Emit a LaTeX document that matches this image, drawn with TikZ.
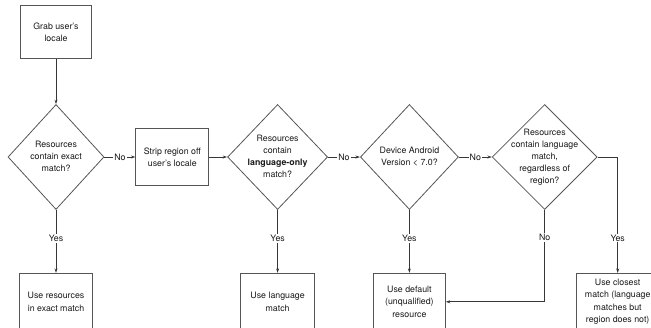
\documentclass[tikz,border=0pt]{standalone}
\usepackage{fontspec}
\setmainfont{TeX Gyre Heros}
\usepackage{tikz}
\usetikzlibrary{shapes.geometric, arrows.meta, positioning}
\definecolor{flowline}{RGB}{55, 55, 55}
\definecolor{flowedge}{RGB}{85, 85, 85}
\definecolor{flowtext}{RGB}{25, 25, 25}
% text for a diamond without letting it size the shape
\newcommand{\dlines}[1]{\smash{\makebox[0pt]{\raisebox{-2.5pt}{\begin{tabular}{@{}c@{}}#1\end{tabular}}}}}
\tikzset{
    action/.style={rectangle, draw=flowedge, line width=0.8pt, minimum width=73pt, minimum height=57pt, inner sep=2pt, align=center, text=flowtext, font=\fontsize{8.8}{12.4}\selectfont},
    decision/.style={diamond, draw=flowedge, line width=0.8pt, inner sep=0pt, minimum width=100pt, minimum height=105pt, text=flowtext, font=\fontsize{8.8}{11.9}\selectfont},
    arrow/.style={line width=0.8pt, draw=flowline, ->, >={Stealth[length=4.5pt, width=3pt]}},
    tag/.style={fill=white, inner sep=1pt, text=flowtext, font=\fontsize{8.8}{10}\selectfont}
}

\begin{document}
\begin{tikzpicture}[x=1pt, y=-1pt]
    \clip (0,0) rectangle (651,327);

    % top row
    \node (exact) [decision, minimum width=96pt] at (56,157) {\dlines{Resources\\contain exact\\match?}};
    \node (grab) [action, above=45pt of exact, minimum width=71pt, minimum height=53pt] {Grab user's\\locale};
    \node (strip) [action, right=31pt of exact] {Strip region off\\user's locale};
    \node (langonly) [decision, right=18pt of strip] {\dlines{Resources\\contain\\\textbf{language-only}\\match?}};
    \node (android) [decision, right=32pt of langonly, minimum width=98pt] {\dlines{Device Android\\Version < 7.0?}};
    \node (anylang) [decision, right=33pt of android, minimum width=105pt] {\dlines{Resources\\contain language\\match,\\regardless of\\region?}};

    % bottom row
    \node (useexact) [action, below=63pt of exact] {Use resources\\in exact match};
    \node (uselang) [action, below=63pt of langonly, minimum width=74pt] {Use language\\match};
    \node (usedefault) [action, below=63pt of android, minimum width=72pt] {Use default\\(unqualified)\\resource};
    \node (useclosest) [action, below=63pt of anylang, xshift=73pt, minimum width=82pt] {Use closest\\match (language\\matches but\\region does not)};

    \draw [arrow] (grab) -- (exact);
    \draw [arrow] (exact) -- node [tag] {No} (strip);
    \draw [arrow] (strip) -- (langonly);
    \draw [arrow] (langonly) -- node [tag] {No} (android);
    \draw [arrow] (android) -- node [tag] {No} (anylang);
    \draw [arrow] (exact) -- node [tag, pos=0.45] {Yes} (useexact);
    \draw [arrow] (langonly) -- node [tag, pos=0.45] {Yes} (uselang);
    \draw [arrow] (android) -- node [tag, pos=0.45] {Yes} (usedefault);
    \draw [arrow] (anylang.south) |- node [tag, pos=0.15] {No} (usedefault.east);
    \draw [arrow] (anylang.east) -| node [tag, pos=0.85] {Yes} (useclosest.north);
\end{tikzpicture}
\end{document}
